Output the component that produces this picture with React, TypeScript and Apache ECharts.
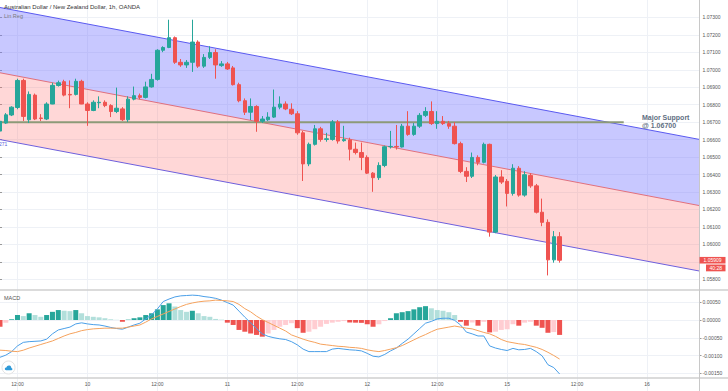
import React, { useEffect, useRef } from 'react';
import * as echarts from 'echarts';

const FONT = 'Liberation Sans, Arial, sans-serif';

// hourly slots: 9th 09:00 .. 16th 09:00 (weekend 13-14 closed)
const sessionDays = [9, 10, 11, 12, 15, 16];
const firstHourOfFirstDay = 9;
const slotCount = 121;
const timeCategories: string[] = [];
for (const d of sessionDays) {
  for (let h = 0; h < 24; h++) {
    if (d === sessionDays[0] && h < firstHourOfFirstDay) continue;
    if (timeCategories.length < slotCount) timeCategories.push(`${d} ${String(h).padStart(2, '0')}`);
  }
}
const isTickSlot = (v: string) => v.endsWith(' 00') || v.endsWith(' 12');
const tickLabel = (v: string) => (v.endsWith(' 12') ? '12:00' : v.split(' ')[0]);

const opens = [
  1.06649, 1.06695, 1.06741, 1.06784, 1.06939, 1.06714, 1.06855, 1.06724, 1.06718, 1.06804,
  1.06910, 1.06932, 1.06859, 1.06859, 1.06934, 1.06804, 1.06767, 1.06811, 1.06814, 1.06795,
  1.06761, 1.06776, 1.06714, 1.06832, 1.06852, 1.06842, 1.06902, 1.06945, 1.07112, 1.07128,
  1.07184, 1.07043, 1.07028, 1.07043, 1.07159, 1.07021, 1.07071, 1.07099, 1.07024, 1.07034,
  1.07011, 1.06915, 1.06823, 1.06757, 1.06790, 1.06705, 1.06714, 1.06729, 1.06786, 1.06804,
  1.06774, 1.06748, 1.06639, 1.06461, 1.06573, 1.06662, 1.06601, 1.06601, 1.06701, 1.06594,
  1.06598, 1.06545, 1.06526, 1.06498, 1.06408, 1.06382, 1.06452, 1.06559, 1.06561, 1.06558,
  1.06677, 1.06630, 1.06677, 1.06739, 1.06761, 1.06692, 1.06705, 1.06692, 1.06677, 1.06577,
  1.06418, 1.06390, 1.06498, 1.06470, 1.06573, 1.06070, 1.06386, 1.06361, 1.06292, 1.06436,
  1.06282, 1.06395, 1.06335, 1.06184, 1.06126, 1.05911, 1.06044,
];
const closes = [
  1.06705, 1.06742, 1.06786, 1.06939, 1.06733, 1.06859, 1.06718, 1.06721, 1.06804, 1.06911,
  1.06926, 1.06855, 1.06856, 1.06934, 1.06804, 1.06767, 1.06814, 1.06814, 1.06795, 1.06761,
  1.06780, 1.06714, 1.06832, 1.06852, 1.06842, 1.06902, 1.06945, 1.07112, 1.07128, 1.07184,
  1.07043, 1.07028, 1.07043, 1.07159, 1.07021, 1.07071, 1.07099, 1.07028, 1.07034, 1.07005,
  1.06915, 1.06823, 1.06757, 1.06790, 1.06705, 1.06718, 1.06729, 1.06786, 1.06804, 1.06776,
  1.06748, 1.06639, 1.06461, 1.06573, 1.06662, 1.06601, 1.06605, 1.06701, 1.06592, 1.06600,
  1.06545, 1.06526, 1.06498, 1.06408, 1.06382, 1.06452, 1.06559, 1.06561, 1.06558, 1.06677,
  1.06630, 1.06677, 1.06739, 1.06761, 1.06692, 1.06705, 1.06692, 1.06677, 1.06577, 1.06418,
  1.06390, 1.06498, 1.06470, 1.06573, 1.06070, 1.06386, 1.06357, 1.06292, 1.06436, 1.06282,
  1.06399, 1.06335, 1.06184, 1.06126, 1.05911, 1.06044, 1.05909,
];
const highs = [
  1.06718, 1.06752, 1.06791, 1.06949, 1.06949, 1.06876, 1.06864, 1.06746, 1.06814, 1.06926,
  1.06938, 1.06943, 1.06939, 1.06949, 1.06943, 1.06814, 1.06825, 1.06848, 1.06825, 1.06803,
  1.06898, 1.06786, 1.06848, 1.06904, 1.06864, 1.06932, 1.06977, 1.07118, 1.07135, 1.07287,
  1.07191, 1.07062, 1.07056, 1.07287, 1.07169, 1.07090, 1.07135, 1.07118, 1.07050, 1.07045,
  1.07022, 1.06926, 1.06836, 1.06836, 1.06797, 1.06735, 1.06757, 1.06887, 1.06848, 1.06819,
  1.06808, 1.06763, 1.06650, 1.06583, 1.06684, 1.06673, 1.06639, 1.06712, 1.06712, 1.06679,
  1.06611, 1.06583, 1.06583, 1.06510, 1.06414, 1.06470, 1.06566, 1.06650, 1.06684, 1.06690,
  1.06763, 1.06695, 1.06752, 1.06786, 1.06819, 1.06763, 1.06735, 1.06707, 1.06701, 1.06588,
  1.06442, 1.06526, 1.06510, 1.06583, 1.06577, 1.06397, 1.06425, 1.06374, 1.06459, 1.06448,
  1.06419, 1.06408, 1.06346, 1.06262, 1.06143, 1.06076, 1.06070,
];
const lows = [
  1.06639, 1.06690, 1.06735, 1.06774, 1.06707, 1.06695, 1.06712, 1.06707, 1.06712, 1.06803,
  1.06904, 1.06848, 1.06780, 1.06853, 1.06803, 1.06679, 1.06763, 1.06780, 1.06786, 1.06729,
  1.06752, 1.06707, 1.06701, 1.06825, 1.06831, 1.06836, 1.06898, 1.06938, 1.07101, 1.07124,
  1.07034, 1.07017, 1.07011, 1.06988, 1.07011, 1.07011, 1.07062, 1.06949, 1.07017, 1.06999,
  1.06910, 1.06814, 1.06741, 1.06712, 1.06645, 1.06695, 1.06707, 1.06724, 1.06774, 1.06769,
  1.06741, 1.06628, 1.06363, 1.06448, 1.06566, 1.06588, 1.06588, 1.06594, 1.06577, 1.06588,
  1.06481, 1.06515, 1.06425, 1.06403, 1.06301, 1.06369, 1.06442, 1.06549, 1.06543, 1.06555,
  1.06622, 1.06622, 1.06667, 1.06729, 1.06684, 1.06662, 1.06684, 1.06662, 1.06572, 1.06408,
  1.06357, 1.06380, 1.06453, 1.06464, 1.06044, 1.06064, 1.06346, 1.06217, 1.06279, 1.06273,
  1.06273, 1.06324, 1.06177, 1.06104, 1.05822, 1.05895, 1.05895,
];

const macdLine = [
  -0.00105, -0.00099, -0.00089, -0.00073, -0.00063, -0.00061, -0.0006, -0.00059, -0.00054, -0.00039,
  -0.00028, -0.00024, -0.0002, -0.00011, -0.00008, -0.00011, -0.00013, -0.00014, -0.00017, -0.00021,
  -0.00024, -0.00026, -0.0002, -0.00014, -0.00009, 0.00003, 0.00015, 0.00031, 0.00052, 0.00059,
  0.00065, 0.00068, 0.00069, 0.0007, 0.00069, 0.00066, 0.00064, 0.00061, 0.00056, 0.00049,
  0.00042, 0.00025, 0.00008, -0.00008, -0.00024, -0.00039, -0.00046, -0.0005, -0.00053, -0.00055,
  -0.00061, -0.0007, -0.00082, -0.00089, -0.00089, -0.00089, -0.00089, -0.00082, -0.0008, -0.00082,
  -0.00084, -0.00085, -0.00087, -0.00094, -0.00102, -0.00104, -0.00097, -0.00087, -0.00079, -0.00066,
  -0.00054, -0.00039, -0.00024, -0.00009, -0.00004, 0.00003, 0.00005, 0.00005, -0.00001, -0.00014,
  -0.00034, -0.00039, -0.00045, -0.00045, -0.00073, -0.00079, -0.00083, -0.00086, -0.0008, -0.00084,
  -0.00083, -0.0008, -0.00089, -0.00101, -0.00126, -0.00134, -0.00152,
];
const signalLine = [
  -0.00085, -0.00086, -0.00088, -0.00089, -0.00085, -0.00079, -0.00074, -0.00069, -0.00064, -0.00059,
  -0.00052, -0.00045, -0.00039, -0.00035, -0.0003, -0.00027, -0.00025, -0.00024, -0.00023, -0.00023,
  -0.00023, -0.00023, -0.0002, -0.00017, -0.00014, -0.00006, 0.00003, 0.0001, 0.00017, 0.00024,
  0.00031, 0.00038, 0.00044, 0.00048, 0.00051, 0.00053, 0.00054, 0.00056, 0.00055, 0.00054,
  0.00052, 0.00044, 0.00032, 0.00023, 0.00011, 0.00001, -0.00007, -0.00015, -0.00023, -0.00031,
  -0.00042, -0.00048, -0.00054, -0.00059, -0.00063, -0.00068, -0.0007, -0.00072, -0.00074, -0.00075,
  -0.00077, -0.00078, -0.0008, -0.00084, -0.00087, -0.00089, -0.00086, -0.00082, -0.00078, -0.00072,
  -0.00064, -0.00056, -0.00048, -0.00041, -0.00033, -0.00026, -0.00023, -0.0002, -0.00017, -0.0002,
  -0.00023, -0.00025, -0.0003, -0.00035, -0.00039, -0.00046, -0.00055, -0.00061, -0.00064, -0.00067,
  -0.00069, -0.00073, -0.00077, -0.00083, -0.00091, -0.001, -0.0011,
];
const histogram = [
  -0.00019, -0.00008, 0.00002, 0.00014, 0.00011, 0.00019, 0.00014, 0.00009, 0.00014, 0.00023,
  0.00028, 0.00026, 0.00025, 0.00028, 0.00019, 0.00011, 0.00009, 0.000075, 0.00005, 0.00002,
  0.000005, -0.00005, 0.00001, 0.00005, 0.000075, 0.00014, 0.00019, 0.0003, 0.00042, 0.00047,
  0.00038, 0.00028, 0.00023, 0.00026, 0.00019, 0.00011, 0.00009, 0.00003, 0.00001, -0.000075,
  -0.00014, -0.00028, -0.00033, -0.00038, -0.00042, -0.00047, -0.00038, -0.00028, -0.00019, -0.00014,
  -0.00009, -0.00023, -0.00036, -0.00033, -0.00026, -0.00019, -0.00011, -0.000075, -0.00005, -0.00003,
  -0.00007, -0.000075, -0.00008, -0.00012, -0.00019, -0.00012, -0.00003, 0.00005, 0.00019, 0.00022,
  0.00025, 0.0003, 0.00036, 0.00039, 0.00033, 0.00028, 0.00026, 0.00022, 0.00014, -0.00005,
  -0.00016, -0.00007, -0.00016, -0.00005, -0.00035, -0.00033, -0.00028, -0.00026, -0.00012, -0.00016,
  -0.000075, -0.00005, -0.00016, -0.00022, -0.00036, -0.00034, -0.00042,
];

// linear regression channel, at the left and right edges of the visible window
const channelEdges = [0, 1];
const channelUpper = [1.07357, 1.06601];
const channelMid = [1.06983, 1.06222];
const channelLower = [1.066, 1.05847];

const supportLevel = 1.067;
const supportEndSlot = 107;
const lastClose = closes[closes.length - 1];
const countdown = '40:28';

const histColor = (i: number) => {
  const v = histogram[i];
  const p = i > 0 ? histogram[i - 1] : v;
  if (v >= 0) return v >= p ? '#26a69a' : '#b2dfdb';
  return v <= p ? '#ef5350' : '#ffcdd2';
};

const cloudPath =
  'M3,10 C1,10 0,8.5 0.5,7 C1,5.5 2.5,5 3.2,5.2 C3.8,2.5 6,1 8.5,1.5 C11,2 12.2,4 12,6 C13.5,6.3 14.2,7.5 14,8.5 C13.8,9.5 13,10 12,10 Z';
let registered = false;
function ensureShape() {
  if (registered) return;
  echarts.graphic.registerShape('tvcloud', echarts.graphic.extendPath(cloudPath, {}) as any);
  registered = true;
}

const gridColor = '#eef1f6';
const fmtNum = (v: number) => (Math.abs(v) < 1e-9 ? 0 : v).toFixed(5);
const fmtPrice = (v: number) => (Math.abs(v - lastClose) < 0.0003 ? '' : fmtNum(v));

// bands of the channel: [top-left, top-right, bottom-left, bottom-right]
const bandValues = [
  [channelUpper[0], channelUpper[1], channelMid[0], channelMid[1]],
  [channelMid[0], channelMid[1], channelLower[0], channelLower[1]],
];
const bandColors = ['rgba(118,118,255,0.40)', 'rgba(255,110,110,0.28)'];

export default function App() {
  const ref = useRef<HTMLDivElement>(null);
  useEffect(() => {
    document.body.style.margin = '0';
    ensureShape();
    const chart = echarts.init(ref.current!, undefined, { renderer: 'svg', width: 728, height: 391 });
    const edgeLine = (vals: number[], color: string) => ({
      type: 'line', xAxisIndex: 1, yAxisIndex: 0, symbol: 'none', z: 3,
      data: channelEdges.map((x, k) => [x, vals[k]]),
      lineStyle: { color, width: 1 },
    });
    const option: any = {
      animation: false,
      backgroundColor: '#ffffff',
      textStyle: { fontFamily: FONT },
      grid: [
        { left: 0, top: -5.05, width: 699.5, height: 301.75 },
        { left: 0, top: 284.5, width: 699.5, height: 106.5 },
      ],
      xAxis: [
        {
          type: 'category', gridIndex: 0, data: timeCategories, boundaryGap: false,
          axisLine: { show: false }, axisTick: { show: false }, axisLabel: { show: false },
          splitLine: { show: true, interval: (_i: number, v: string) => isTickSlot(v), lineStyle: { color: gridColor } },
        },
        { type: 'value', gridIndex: 0, min: 0, max: 1, show: false, position: 'top' },
        {
          type: 'category', gridIndex: 1, data: timeCategories, boundaryGap: false, position: 'bottom', offset: -13,
          axisLine: { show: false }, axisTick: { show: false },
          axisLabel: {
            interval: (_i: number, v: string) => isTickSlot(v), formatter: tickLabel,
            fontSize: 5, color: '#555', margin: 3, fontFamily: FONT,
          },
          splitLine: { show: true, interval: (_i: number, v: string) => isTickSlot(v), lineStyle: { color: gridColor } },
        },
      ],
      yAxis: [
        {
          type: 'value', gridIndex: 0, position: 'right', min: 1.057, max: 1.074, interval: 0.001,
          axisLine: { show: false },
          axisTick: { show: true, length: 2, lineStyle: { color: '#999' } },
          axisLabel: { fontSize: 5, color: '#555', margin: 3, fontFamily: FONT, formatter: fmtPrice, showMinLabel: false, showMaxLabel: false },
          splitLine: { show: true, showMinLine: false, showMaxLine: false, lineStyle: { color: gridColor } },
        },
        {
          type: 'value', gridIndex: 1, position: 'right', min: -0.002, max: 0.001, interval: 0.0005,
          axisLine: { show: false },
          axisTick: { show: true, length: 2, lineStyle: { color: '#999' } },
          axisLabel: { fontSize: 5, color: '#555', margin: 3, fontFamily: FONT, formatter: fmtNum, showMinLabel: false, showMaxLabel: false },
          splitLine: { show: true, showMinLine: false, showMaxLine: false, lineStyle: { color: gridColor } },
        },
      ],
      series: [
        {
          type: 'custom', xAxisIndex: 1, yAxisIndex: 0, z: 1,
          data: bandValues,
          encode: { x: [], y: [0, 1, 2, 3] },
          renderItem: (params: any, api: any) => {
            const i = params.dataIndex;
            const p1 = api.coord([channelEdges[0], api.value(0)]);
            const p2 = api.coord([channelEdges[1], api.value(1)]);
            const p3 = api.coord([channelEdges[1], api.value(3)]);
            const p4 = api.coord([channelEdges[0], api.value(2)]);
            return { type: 'polygon', shape: { points: [p1, p2, p3, p4] }, style: { fill: bandColors[i] } };
          },
        },
        edgeLine(channelLower, '#6e5fdc'),
        edgeLine(channelMid, '#e0707e'),
        edgeLine(channelUpper, '#5a5af0'),
        {
          type: 'line', xAxisIndex: 0, yAxisIndex: 0, symbol: 'none', z: 4,
          data: [[timeCategories[0], supportLevel], [timeCategories[supportEndSlot], supportLevel]],
          lineStyle: { color: '#8d9a78', width: 2 },
        },
        {
          type: 'candlestick', xAxisIndex: 0, yAxisIndex: 0, barWidth: 4, z: 5,
          data: opens.map((o, i) => [o, closes[i], lows[i], highs[i]]),
          itemStyle: { color: '#26a69a', color0: '#ef5350', borderColor: '#26a69a', borderColor0: '#ef5350', borderWidth: 1 },
        },
        {
          type: 'bar', xAxisIndex: 2, yAxisIndex: 1, barWidth: 5,
          data: histogram.map((v, i) => ({ value: v, itemStyle: { color: histColor(i) } })),
        },
        {
          type: 'line', xAxisIndex: 2, yAxisIndex: 1, symbol: 'none', data: macdLine,
          lineStyle: { color: '#4a9fe8', width: 1 },
        },
        {
          type: 'line', xAxisIndex: 2, yAxisIndex: 1, symbol: 'none', data: signalLine,
          lineStyle: { color: '#f5a25d', width: 1 },
        },
      ],
    };
    chart.setOption(option);

    const yLast = chart.convertToPixel({ yAxisIndex: 0 }, lastClose) as number;
    const ySup = chart.convertToPixel({ yAxisIndex: 0 }, supportLevel) as number;
    const yLowerLeft = chart.convertToPixel({ yAxisIndex: 0 }, channelLower[0]) as number;

    chart.setOption({
      graphic: [
        { type: 'line', shape: { x1: 0, y1: 290, x2: 728, y2: 290 }, style: { stroke: '#cfcfcf', lineWidth: 1.5 }, z: 50 },
        { type: 'line', shape: { x1: 0, y1: 378, x2: 728, y2: 378 }, style: { stroke: '#cfcfcf', lineWidth: 1.5 }, z: 50 },
        { type: 'line', shape: { x1: 699.5, y1: 0, x2: 699.5, y2: 391 }, style: { stroke: '#c8c8c8', lineWidth: 1 }, z: 50 },
        { type: 'text', x: 4, y: 7, style: { text: 'Australian Dollar / New Zealand Dollar, 1h, OANDA', fontSize: 6, fontFamily: FONT, fill: '#333', textVerticalAlign: 'middle' }, z: 60 },
        { type: 'text', x: 4, y: 15.5, style: { text: 'Lin Reg', fontSize: 5.5, fontFamily: FONT, fill: '#7a7a7a', textVerticalAlign: 'middle' }, z: 60 },
        { type: 'text', x: -1, y: yLowerLeft + 4, style: { text: '271', fontSize: 5, fontFamily: FONT, fill: '#5a5ad8', textVerticalAlign: 'middle' }, z: 60 },
        { type: 'text', x: 4, y: 297.7, style: { text: 'MACD', fontSize: 5.5, fontFamily: FONT, fill: '#555', textVerticalAlign: 'middle' }, z: 60 },
        { type: 'text', x: 642, y: ySup - 4.6, style: { text: 'Major Support', fontSize: 7, fontWeight: 'bold', fontFamily: FONT, fill: '#5f6f82', textVerticalAlign: 'middle' }, z: 60 },
        { type: 'text', x: 642, y: ySup + 3.6, style: { text: '@ ' + supportLevel.toFixed(5), fontSize: 7, fontWeight: 'bold', fontFamily: FONT, fill: '#5f6f82', textVerticalAlign: 'middle' }, z: 60 },
        { type: 'rect', shape: { x: 699.5, y: yLast - 3.3, width: 26, height: 6.6 }, style: { fill: '#ef5350' }, z: 70 },
        { type: 'text', x: 712.5, y: yLast, style: { text: lastClose.toFixed(5), fontSize: 5, fontFamily: FONT, fill: '#fff', textAlign: 'center', textVerticalAlign: 'middle' }, z: 71 },
        { type: 'rect', shape: { x: 706, y: yLast + 4.3, width: 19.5, height: 6.8 }, style: { fill: '#ef5350' }, z: 70 },
        { type: 'text', x: 715.7, y: yLast + 7.7, style: { text: countdown, fontSize: 5, fontFamily: FONT, fill: '#fff', textAlign: 'center', textVerticalAlign: 'middle' }, z: 71 },
        { type: 'circle', shape: { cx: 8.5, cy: 367.5, r: 6.5 }, style: { fill: '#fff', stroke: '#e3e3e3', lineWidth: 1 }, z: 60 },
        { type: 'tvcloud', x: 4.6, y: 364.6, scaleX: 0.56, scaleY: 0.56, style: { fill: '#2f9ad8' }, z: 61 },
      ],
    });
    return () => chart.dispose();
  }, []);
  return <div ref={ref} style={{ width: 728, height: 391 }} />;
}
